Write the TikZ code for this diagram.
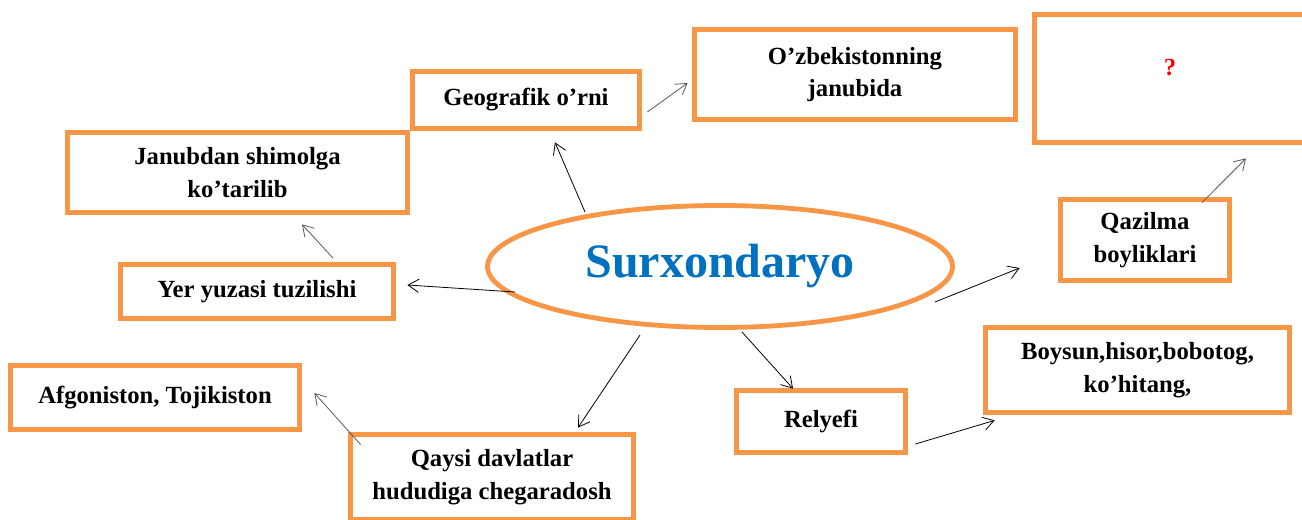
\documentclass[tikz,border=0pt]{standalone}
\usepackage{fontspec}
\setmainfont{Liberation Serif}
\usetikzlibrary{shapes.geometric,arrows.meta,calc}
\definecolor{orng}{HTML}{F79646}
\definecolor{sblue}{HTML}{0070C0}
\definecolor{agray}{HTML}{595959}
\def\pu{0.75pt}
\tikzset{
  box/.style={draw=orng, line width=3.6pt, align=center, inner sep=0pt, fill=white,
    font=\fontsize{18.5}{24.5}\selectfont\bfseries},
  conn/.style={-{Straight Barb[length=8pt,width=10pt]}, line width=0.6pt, black},
  gconn/.style={conn, agray},
}
\begin{document}
\begin{tikzpicture}[x=0.75pt,y=-0.75pt]
\useasboundingbox (0,0) rectangle (1302,519);
% boxes
\node[box, minimum width=340*\pu, minimum height=80*\pu] (jan) at (237.5,172.5) {Janubdan shimolga\\ko’tarilib};
\node[box, minimum width=227*\pu, minimum height=57*\pu] (geo) at (526,100) {Geografik o’rni};
\node[box, minimum width=321*\pu, minimum height=90*\pu] (uzb) at (855,74.5) {O’zbekistonning\\janubida};
\node[box, minimum width=273*\pu, minimum height=128*\pu] (q) at (1171,78.5) {};
\node[font=\fontsize{18.5}{24.5}\selectfont\bfseries, text=red] (qm) at (1170,68) {?};
\node[box, minimum width=273*\pu, minimum height=54*\pu] (yer) at (257,291.5) {Yer yuzasi tuzilishi};
\node[box, minimum width=169*\pu, minimum height=81*\pu] (qaz) at (1145,240) {Qazilma\\boyliklari};
\node[box, minimum width=289*\pu, minimum height=64*\pu] (afg) at (155,397.5) {Afgoniston, Tojikiston};
\node[box, minimum width=283*\pu, minimum height=85*\pu] (qay) at (492,477) {Qaysi davlatlar\\hududiga chegaradosh};
\node[box, minimum width=169*\pu, minimum height=62*\pu] (rel) at (821,421.5) {Relyefi};
\node[box, minimum width=304*\pu, minimum height=85*\pu] (boy) at (1137.5,370) {Boysun,hisor,bobotog,\\ko’hitang,};
\node[ellipse, draw=orng, line width=3.6pt, minimum width=465*\pu, minimum height=122*\pu, inner sep=0pt,
  text=sblue, font=\fontsize{36}{40}\selectfont\bfseries] (ell) at (720,266.5) {Surxondaryo};
% free ends
\coordinate (fq) at ($(qaz.west)+(-38.5,28)$);
\coordinate (fr) at ($(q.south)+(75,13.5)$);
% connectors
\draw[conn] ($(ell.center)+(-135,-54.5)$) -- ($(geo.south)+(29,11.5)$);
\draw[gconn] ($(geo.east)+(5.5,12)$) -- ($(uzb.west)+(-4.5,8.5)$);
\draw[conn] ($(ell.center)+(-205,25.5)$) -- ($(yer.east)+(11.5,-6.5)$);
\draw[gconn] ($(yer.north)+(76,-4)$) -- ($(jan.south)+(64.5,9.5)$);
\draw[conn] ($(ell.center)+(-80,68.5)$) -- ($(qay.north)+(86,-4.5)$);
\draw[gconn] ($(qay.north west)+(12.5,12.5)$) -- ($(afg.east)+(12.5,-4.5)$);
\draw[conn] ($(ell.center)+(22,65.5)$) -- ($(rel.north)+(-28,0.5)$);
\draw[conn] ($(rel.east)+(7.5,22.5)$) -- ($(boy.south west)+(11.5,5.5)$);
\draw[conn] ($(ell.center)+(215,35.5)$) -- (fq);
\draw[gconn] ($(qaz.north)+(57,5.5)$) -- (fr);
\end{tikzpicture}
\end{document}
